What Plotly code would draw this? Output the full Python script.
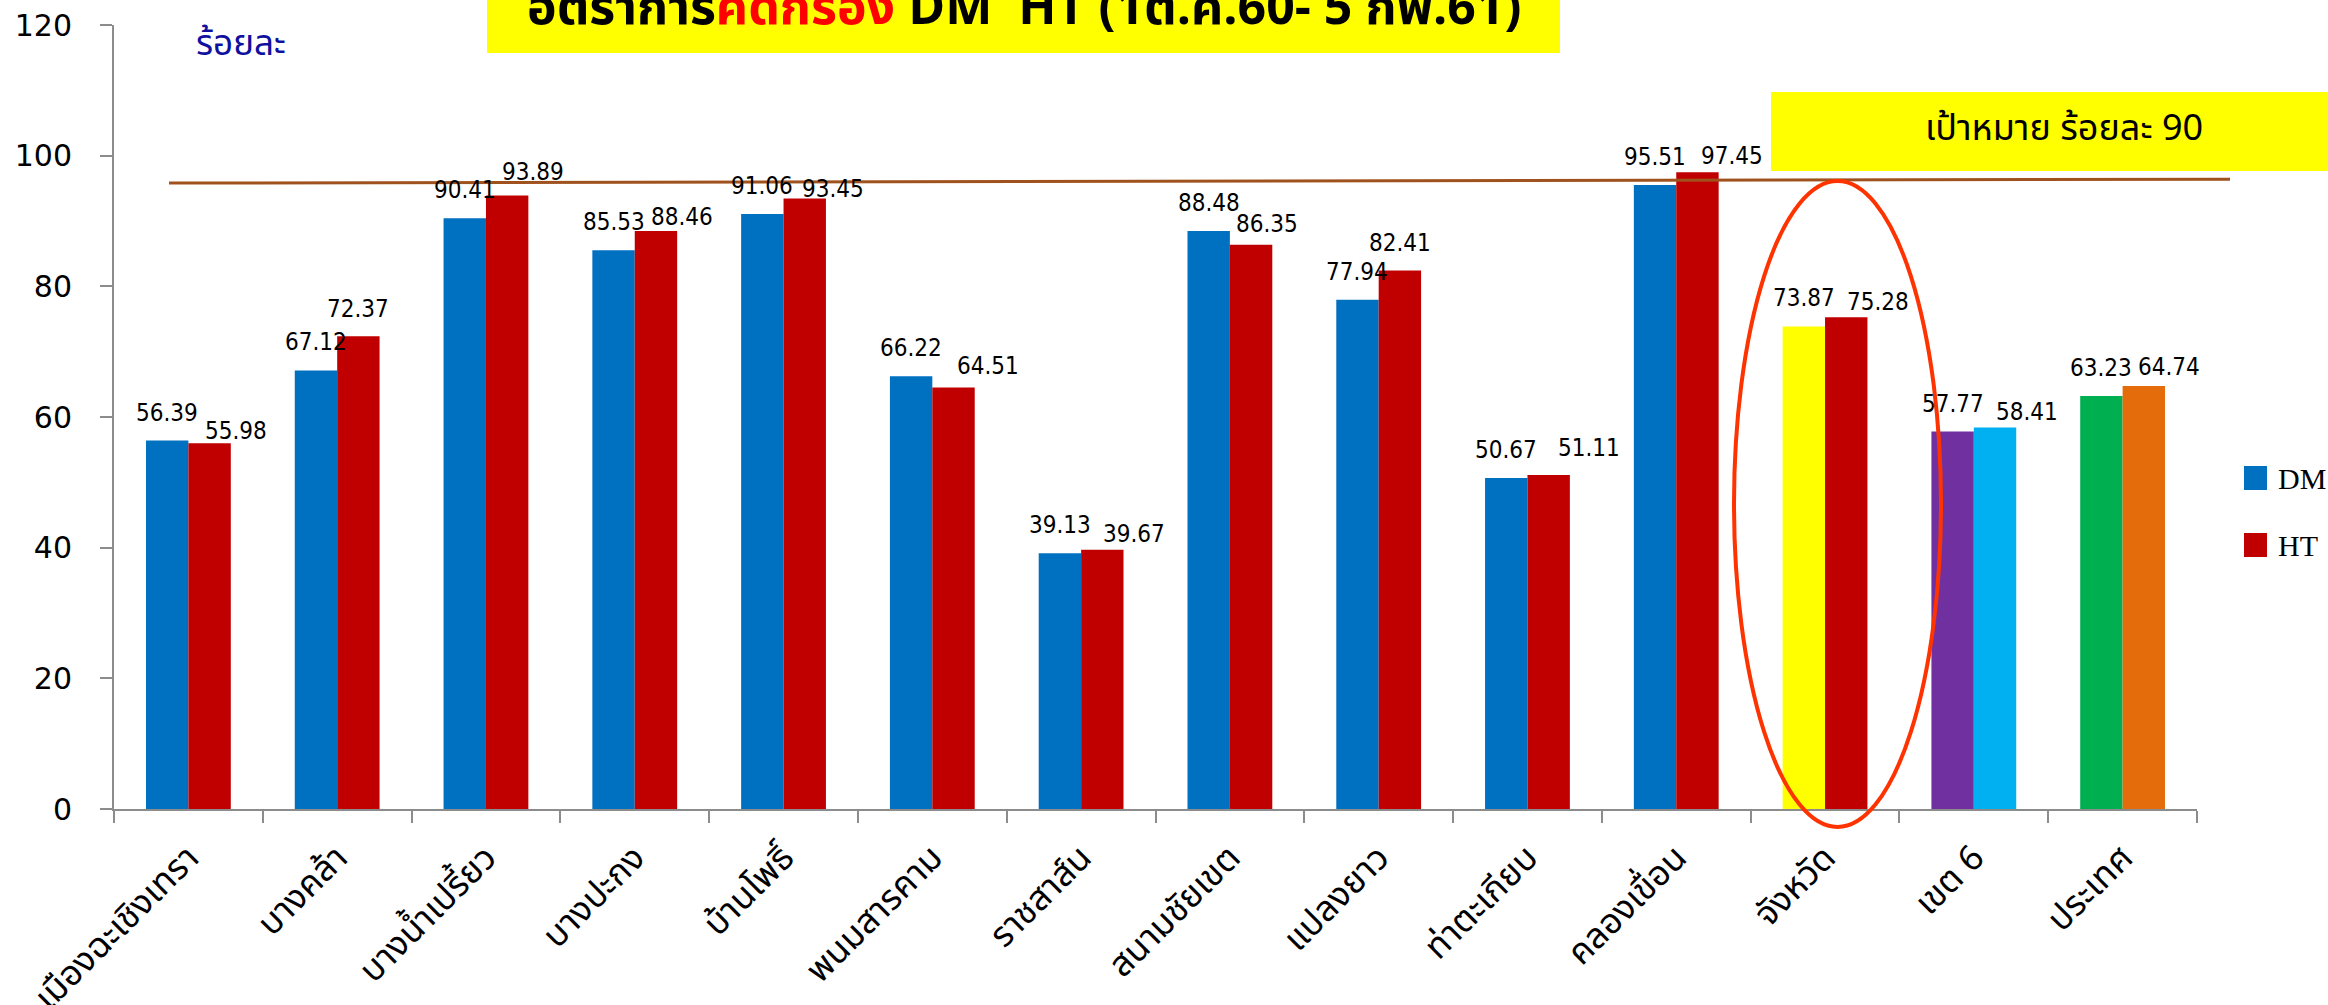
import plotly.graph_objects as go

# --- data -------------------------------------------------------------
districts = ["เมืองฉะเชิงเทรา", "บางคล้า", "บางน้ำเปรี้ยว", "บางปะกง", "บ้านโพธิ์",
             "พนมสารคาม", "ราชสาส์น", "สนามชัยเขต", "แปลงยาว", "ท่าตะเกียบ",
             "คลองเขื่อน", "จังหวัด", "เขต 6", "ประเทศ"]
dm_rate = [56.39, 67.12, 90.41, 85.53, 91.06, 66.22, 39.13, 88.48, 77.94, 50.67,
           95.51, 73.87, 57.77, 63.23]
ht_rate = [55.98, 72.37, 93.89, 88.46, 93.45, 64.51, 39.67, 86.35, 82.41, 51.11,
           97.45, 75.28, 58.41, 64.74]
target_line = [95.8, 96.4]          # drawn target line, left and right ends
y_ticks = [0, 20, 40, 60, 80, 100, 120]
Y_MAX = 120

# --- styles -----------------------------------------------------------
dm_colors = ["#0070C0"] * 11 + ["#FFFF00", "#7030A0", "#00B050"]
ht_colors = ["#C00000"] * 12 + ["#00B0F0", "#E46C0A"]
# label nudges (px): horizontal and vertical from the bar top
dm_label_dx = [0] * 14
dm_label_dy = [28] * 14
ht_label_dx = [26, 0, 26, 26, 28, 34, 32, 16, 0, 40, 35, 32, 32, 25]
ht_label_dy = [12, 27, 24, 14, 9, 22, 16, 21, 28, 27, 16, 15, 15, 19]

W, H = 2328, 1005
ML, MR, MT, MB = 114, 131, 25, 196
PW, PH = W - ML - MR, H - MT - MB
BARGAP = 0.43
AXIS_GREY = "#8C8C8C"
THAI_FONT = "Noto Sans Thai, Noto Sans, DejaVu Sans, sans-serif"
NUM_FONT = "DejaVu Sans Condensed, DejaVu Sans, sans-serif"


def px_x(x):
    return (x - ML) / PW


def px_y(y):
    return (H - MB - y) / PH


fig = go.Figure()
fig.add_trace(go.Bar(x=districts, y=dm_rate, name="DM",
                     marker=dict(color=dm_colors, line=dict(width=0))))
fig.add_trace(go.Bar(x=districts, y=ht_rate, name="HT",
                     marker=dict(color=ht_colors, line=dict(width=0))))

# value labels above each bar
cat_px = PW / len(districts)
bar_px = cat_px * (1 - BARGAP) / 2
annotations = []
for i, name in enumerate(districts):
    for val, dx, dy, side in ((dm_rate[i], dm_label_dx[i], dm_label_dy[i], -1),
                              (ht_rate[i], ht_label_dx[i], ht_label_dy[i], 1)):
        annotations.append(dict(
            x=name, y=val, xref="x", yref="y", text=f"{val:.2f}",
            showarrow=False, xanchor="center", yanchor="middle",
            xshift=side * bar_px / 2 + dx, yshift=dy,
            font=dict(family=NUM_FONT, size=24, color="black")))

# title banner
annotations.append(dict(
    xref="paper", yref="paper", x=px_x(1024), y=px_y(9),
    xanchor="center", yanchor="middle", showarrow=False,
    text="อัตราการ<span style='color:#FF0000'>คัดกรอง</span> DM  HT (1ต.ค.60- 5 กพ.61)",
    font=dict(family=THAI_FONT, size=50, color="black", weight="bold")))
# unit label
annotations.append(dict(
    xref="paper", yref="paper", x=px_x(241), y=px_y(45),
    xanchor="center", yanchor="middle", showarrow=False, text="ร้อยละ",
    font=dict(family=THAI_FONT, size=35, color="#1010A0")))
# target banner text
annotations.append(dict(
    xref="paper", yref="paper", x=px_x(2064), y=px_y(129),
    xanchor="center", yanchor="middle", showarrow=False,
    text="เป้าหมาย ร้อยละ 90",
    font=dict(family=THAI_FONT, size=36, color="black")))
# legend text
for label, cy in (("DM", 478), ("HT", 545)):
    annotations.append(dict(
        xref="paper", yref="paper", x=px_x(2276), y=px_y(cy),
        xanchor="left", yanchor="middle", showarrow=False, text=label,
        font=dict(family="Liberation Serif, serif", size=30, color="black")))

shapes = [
    # title banner
    dict(type="rect", xref="paper", yref="paper", layer="below",
         x0=px_x(487), x1=px_x(1560), y0=px_y(53), y1=px_y(0),
         fillcolor="#FFFF00", line=dict(width=0)),
    # target banner
    dict(type="rect", xref="paper", yref="paper", layer="below",
         x0=px_x(1771), x1=px_x(W), y0=px_y(171), y1=px_y(92),
         fillcolor="#FFFF00", line=dict(width=0)),
    # target line (runs a little past the plot area on the right)
    dict(type="line", xref="paper", yref="paper",
         x0=px_x(169), x1=px_x(2230),
         y0=target_line[0] / Y_MAX, y1=target_line[1] / Y_MAX,
         line=dict(color="#A0521E", width=3)),
    # highlight ring round the province bars
    dict(type="circle", xref="paper", yref="paper",
         x0=px_x(1734), x1=px_x(1941), y0=px_y(827), y1=px_y(181),
         line=dict(color="#FF3300", width=4)),
    # legend swatches
    dict(type="rect", xref="paper", yref="paper",
         x0=px_x(2244), x1=px_x(2267), y0=px_y(490), y1=px_y(466),
         fillcolor="#0070C0", line=dict(width=0)),
    dict(type="rect", xref="paper", yref="paper",
         x0=px_x(2244), x1=px_x(2267), y0=px_y(557), y1=px_y(533),
         fillcolor="#C00000", line=dict(width=0)),
]

fig.update_layout(
    width=W, height=H,
    margin=dict(l=ML, r=MR, t=MT, b=MB, autoexpand=False),
    plot_bgcolor="white", paper_bgcolor="white",
    barmode="group", bargap=BARGAP, bargroupgap=0,
    showlegend=False,
    annotations=annotations, shapes=shapes,
    xaxis=dict(type="category", range=[-0.5, len(districts) - 0.5],
               tickson="boundaries", ticks="outside", ticklen=12,
               tickwidth=2, tickcolor=AXIS_GREY,
               showline=True, linecolor=AXIS_GREY, linewidth=2,
               showgrid=False, tickangle=-45, ticklabelstandoff=12,
               tickfont=dict(family=THAI_FONT, size=35, color="black")),
    yaxis=dict(range=[0, Y_MAX], tickvals=y_ticks, ticks="outside", ticklen=12,
               tickwidth=2, tickcolor=AXIS_GREY,
               showline=True, linecolor=AXIS_GREY, linewidth=2,
               showgrid=False, zeroline=False, ticklabelstandoff=22,
               tickfont=dict(family="DejaVu Sans, sans-serif", size=30,
                             color="black")),
)

fig.write_html("out.html")
